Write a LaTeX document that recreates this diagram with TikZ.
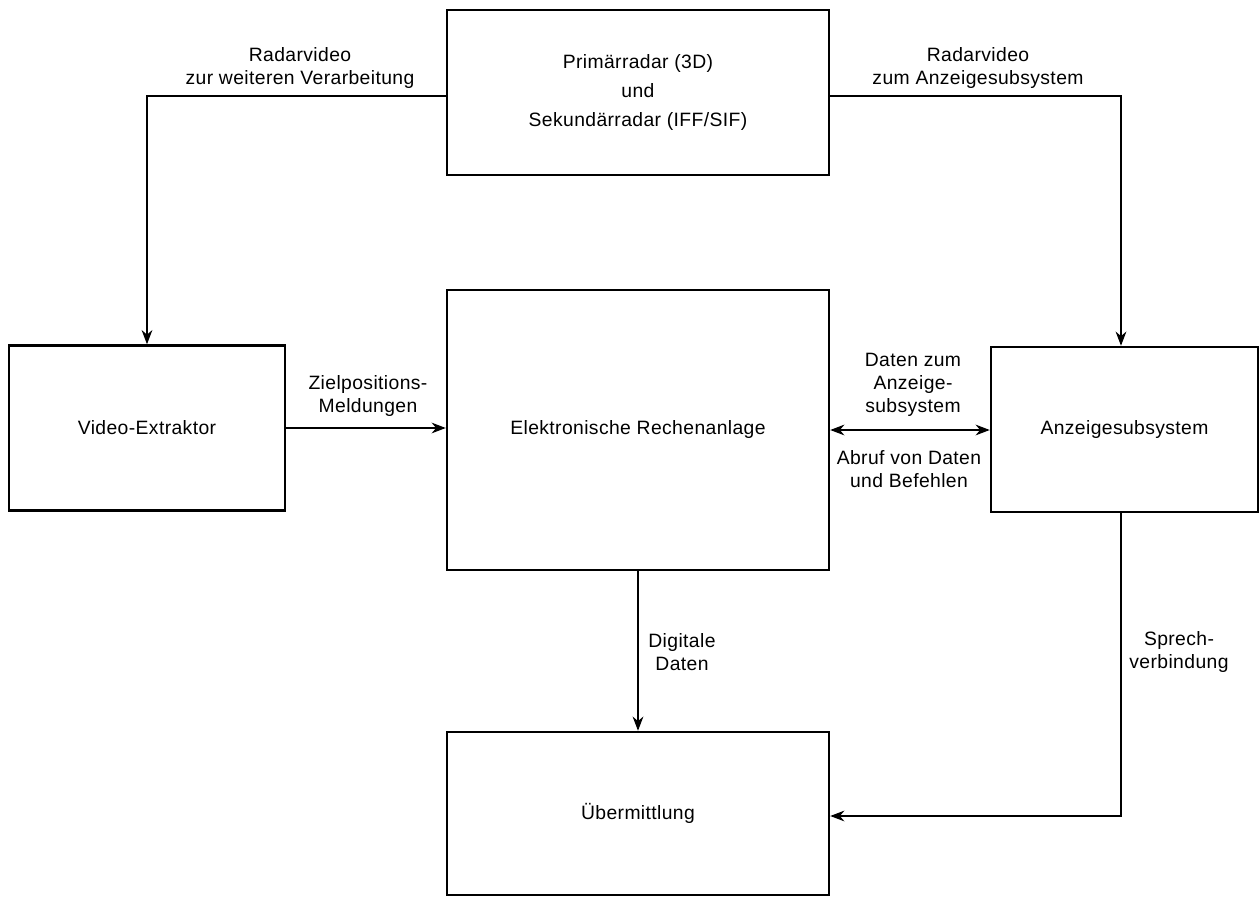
\documentclass[tikz,border=0pt]{standalone}
\usepackage{fontspec}
\setmainfont{Liberation Sans}[LetterSpace=2]
\usetikzlibrary{arrows.meta}
\begin{document}
\begin{tikzpicture}[x=0.02cm,y=-0.02cm,
  box/.style={draw,line width=1.4pt,inner sep=0pt,align=center,font=\fontsize{11}{16.5}\selectfont},
  lbl/.style={align=center,font=\fontsize{11}{13}\selectfont,inner sep=0pt},
  conn/.style={line width=1.4pt},
  tip/.tip={Stealth[length=8pt,width=6pt,inset=2.5pt]},
  arr/.style={conn,-tip},
  darr/.style={conn,tip-tip}]
\useasboundingbox (0,0) rectangle (1259,899);
% boxes
\node[box,minimum width=7.64cm,minimum height=3.3cm] (top) at (638,92.5)
  {Primärradar (3D)\\und\\Sekundärradar (IFF/SIF)};
\node[box,minimum width=7.64cm,minimum height=5.6cm] (rech) at (638,430)
  {Elektronische Rechenanlage};
\node[box,minimum width=5.52cm,minimum height=3.3cm] (video) at (147,428)
  {Video-Extraktor};
\node[box,minimum width=5.34cm,minimum height=3.3cm] (anz) at (1124.5,429.5)
  {Anzeigesubsystem};
\node[box,minimum width=7.64cm,minimum height=3.26cm] (ueb) at (638,813.5)
  {Übermittlung};
% connectors
\coordinate (l1) at (147,96);
\coordinate (r1) at (1121,96);
\coordinate (s1) at (1121,816);
\draw[arr] (top.west |- l1) -- (l1) -- (video.north);
\draw[arr] (top.east |- r1) -- (r1) -- (anz.north -| r1);
\draw[arr] (video.east) -- (video.east -| rech.west);
\draw[darr] (rech.east) -- (rech.east -| anz.west);
\draw[arr] (rech.south) -- (ueb.north);
\draw[arr] (anz.south -| s1) -- (s1) -- (ueb.east |- s1);
% labels
\node[lbl] (la) at (300,68) {Radarvideo\\zur weiteren Verarbeitung};
\node[lbl] (lb) at (978,68) {Radarvideo\\zum Anzeigesubsystem};
\node[lbl] (lc) at (368,396) {Zielpositions-\\Meldungen};
\node[lbl] (ld) at (913,385) {Daten zum\\Anzeige-\\subsystem};
\node[lbl] (le) at (909,469) {Abruf von Daten\\und Befehlen};
\node[lbl] (lf) at (682,652) {Digitale\\Daten};
\node[lbl] (lg) at (1179,652) {Sprech-\\verbindung};
\end{tikzpicture}
\end{document}
